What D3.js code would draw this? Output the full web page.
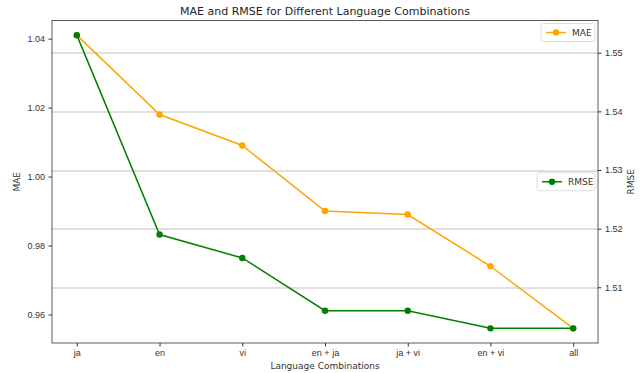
<!DOCTYPE html>
<html>
<head>
<meta charset="utf-8">
<script src="https://cdn.jsdelivr.net/npm/d3@7"></script>
<style>
  body { margin: 0; background: #fff; }
  svg { display: block; font-family: "DejaVu Sans", sans-serif; }
  .tick text { fill: #333; font-size: 9px; }
  .tick line { stroke: #333; }
  .domain { stroke: none; }
</style>
</head>
<body>
<svg id="chart" width="642" height="373"></svg>
<script>
const width = 642;
const height = 373;

const combos = ["ja", "en", "vi", "en + ja", "ja + vi", "en + vi", "all"];
const maeValues = [1.041, 1.018, 1.009, 0.990, 0.989, 0.974, 0.956];
const rmseValues = [1.553, 1.519, 1.515, 1.506, 1.506, 1.503, 1.503];
const maeTicks = [0.96, 0.98, 1.00, 1.02, 1.04];
const rmseTicks = [1.51, 1.52, 1.53, 1.54, 1.55];

const margin = { top: 20.5, right: 44, bottom: 30, left: 52 };
const plotW = width - margin.left - margin.right;
const plotH = height - margin.top - margin.bottom;

const svg = d3.select("#chart");
const g = svg.append("g").attr("transform", `translate(${margin.left},${margin.top})`);

// matplotlib style 5% padding on each axis
function padded(vals) {
    const [lo, hi] = d3.extent(vals);
    const pad = (hi - lo) * 0.05;
    return [lo - pad, hi + pad];
}

const x = d3.scaleLinear()
    .domain([-0.3, combos.length - 1 + 0.3])
    .range([0, plotW]);

const yMae = d3.scaleLinear().domain(padded(maeValues)).range([plotH, 0]);
const yRmse = d3.scaleLinear().domain(padded(rmseValues)).range([plotH, 0]);

// grid lines come from the right axis
g.append("g")
    .selectAll("line")
    .data(rmseTicks)
    .join("line")
    .attr("x1", 0)
    .attr("x2", plotW)
    .attr("y1", d => Math.round(yRmse(d)) + 0.5)
    .attr("y2", d => Math.round(yRmse(d)) + 0.5)
    .attr("stroke", "#b0b0b0")
    .attr("stroke-width", 0.8);

// axes
g.append("g")
    .attr("transform", `translate(0,${plotH})`)
    .call(d3.axisBottom(x).tickValues(d3.range(combos.length))
        .tickFormat(i => combos[i]).tickSize(3.5).tickPadding(3.5));

g.append("g")
    .call(d3.axisLeft(yMae).tickValues(maeTicks)
        .tickFormat(d3.format(".2f")).tickSize(3.5).tickPadding(3.5));

g.append("g")
    .attr("transform", `translate(${plotW},0)`)
    .call(d3.axisRight(yRmse).tickValues(rmseTicks)
        .tickFormat(d3.format(".2f")).tickSize(3.5).tickPadding(3.5));

// series
function drawSeries(values, yScale, color) {
    const line = d3.line()
        .x((d, i) => x(i))
        .y(d => yScale(d));
    g.append("path")
        .datum(values)
        .attr("fill", "none")
        .attr("stroke", color)
        .attr("stroke-width", 1.5)
        .attr("d", line);
    g.append("g")
        .selectAll("circle")
        .data(values)
        .join("circle")
        .attr("cx", (d, i) => x(i))
        .attr("cy", d => yScale(d))
        .attr("r", 3.2)
        .attr("fill", color);
}

function legend(label, color, lx, ly, w) {
    const lg = g.append("g").attr("transform", `translate(${lx},${ly})`);
    lg.append("rect")
        .attr("width", w).attr("height", 18)
        .attr("rx", 2.5)
        .attr("fill", "#fff").attr("fill-opacity", 0.8)
        .attr("stroke", "#d6d6d6").attr("stroke-width", 0.8);
    lg.append("line")
        .attr("x1", 5).attr("x2", 25).attr("y1", 9).attr("y2", 9)
        .attr("stroke", color).attr("stroke-width", 1.5);
    lg.append("circle").attr("cx", 15).attr("cy", 9).attr("r", 3.2).attr("fill", color);
    lg.append("text")
        .attr("x", 31).attr("y", 9).attr("dy", "0.35em")
        .attr("font-size", 9).attr("fill", "#333")
        .text(label);
}

drawSeries(maeValues, yMae, "orange");
legend("MAE", "orange", plotW - 57, 3, 54);

drawSeries(rmseValues, yRmse, "green");
legend("RMSE", "green", plotW - 61, plotH / 2 - 9, 58);

// frame
g.append("rect")
    .attr("width", plotW).attr("height", plotH)
    .attr("fill", "none")
    .attr("stroke", "#333").attr("stroke-width", 0.8);

// labels
svg.append("text")
    .attr("x", margin.left + plotW / 2).attr("y", 15)
    .attr("text-anchor", "middle")
    .attr("font-size", 11).attr("fill", "#262626")
    .text("MAE and RMSE for Different Language Combinations");

svg.append("text")
    .attr("x", margin.left + plotW / 2).attr("y", 369)
    .attr("text-anchor", "middle")
    .attr("font-size", 9).attr("fill", "#333")
    .text("Language Combinations");

svg.append("text")
    .attr("transform", `translate(20,${margin.top + plotH / 2}) rotate(-90)`)
    .attr("text-anchor", "middle")
    .attr("font-size", 9).attr("fill", "#333")
    .text("MAE");

svg.append("text")
    .attr("transform", `translate(634,${margin.top + plotH / 2}) rotate(-90)`)
    .attr("text-anchor", "middle")
    .attr("font-size", 9).attr("fill", "#333")
    .text("RMSE");
</script>
</body>
</html>
